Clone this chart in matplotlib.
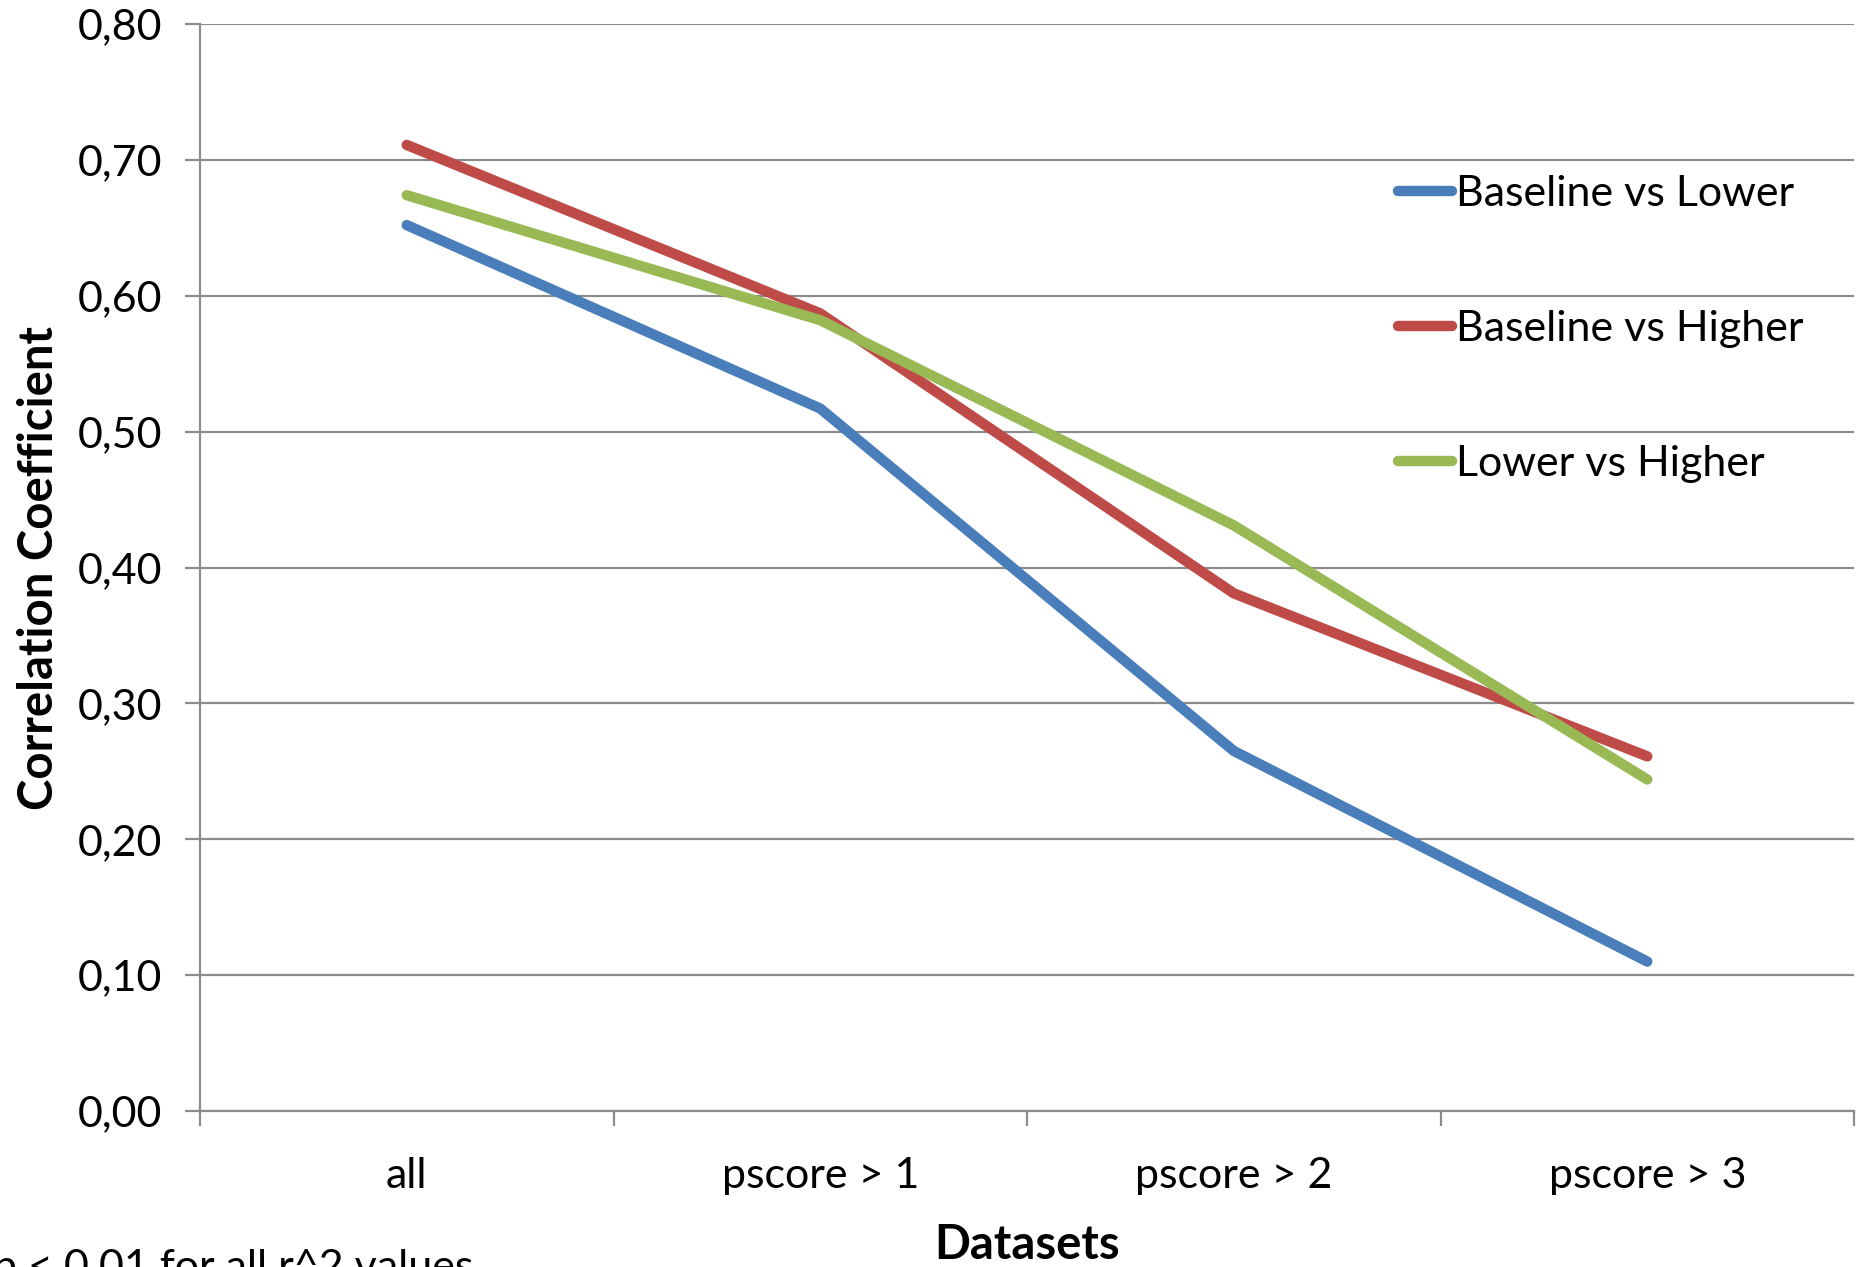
import numpy as np
import matplotlib
matplotlib.use("Agg")
import matplotlib.pyplot as plt
from matplotlib.ticker import FixedLocator, FuncFormatter

# данные
categories = ["all", "pscore > 1", "pscore > 2", "pscore > 3"]
series_names = ["Baseline vs Lower", "Baseline vs Higher", "Lower vs Higher"]
baseline_lower = [0.652, 0.517, 0.265, 0.110]
baseline_higher = [0.711, 0.587, 0.381, 0.261]
lower_higher = [0.674, 0.582, 0.431, 0.244]
yticks = [0.0, 0.1, 0.2, 0.3, 0.4, 0.5, 0.6, 0.7, 0.8]

colors = ["#4A7EBB", "#BE4B48", "#98B954"]
grid_col = "#8C8C8C"

plt.rcParams['font.family'] = ['Lato', 'DejaVu Sans']

fig = plt.figure(figsize=(18.6, 12.67), dpi=100)
ax = fig.add_axes([200/1860, 1 - 1111/1267, 1654/1860, 1087/1267])

x = np.arange(len(categories))
for vals, name, c in zip([baseline_lower, baseline_higher, lower_higher], series_names, colors):
    ax.plot(x, vals, color=c, lw=7.5, solid_capstyle="round", solid_joinstyle="miter", label=name, zorder=3)

ax.set_xlim(-0.5, len(categories) - 0.5)
ax.set_ylim(0, 0.8)
ax.set_yticks(yticks)
ax.yaxis.set_major_formatter(FuncFormatter(lambda v, p: ("%.2f" % v).replace(".", ",")))
ax.grid(axis="y", color=grid_col, lw=1.6, zorder=0)

# деления между категориями, подписи по центрам
ax.xaxis.set_major_locator(FixedLocator(np.arange(-0.5, len(categories), 1.0)))
ax.xaxis.set_minor_locator(FixedLocator(x))
ax.set_xticklabels([])
ax.set_xticklabels(categories, minor=True)
ax.tick_params(axis="x", which="major", length=11, width=1.6, color=grid_col, direction="out")
ax.tick_params(axis="x", which="minor", length=0, pad=33, labelsize=31)
ax.tick_params(axis="y", length=11, width=1.6, color=grid_col, pad=16, labelsize=31)

for s in ["top", "right"]:
    ax.spines[s].set_visible(False)
for s in ["left", "bottom"]:
    ax.spines[s].set_color(grid_col)
    ax.spines[s].set_linewidth(1.6)

ax.set_xlabel("Datasets", fontsize=34, fontweight="bold", labelpad=20)
ax.set_ylabel("Correlation Coefficient", fontsize=34, fontweight="bold", labelpad=12)

leg = ax.legend(loc="upper left", bbox_to_anchor=(1398/1860, 1 - 175/1267),
                bbox_transform=fig.transFigure, frameon=False, fontsize=31,
                handlelength=1.25, handletextpad=0.1, labelspacing=2.25,
                borderpad=0, borderaxespad=0)

fig.text(-0.004, 1 - 1249/1267, "p < 0.01 for all r^2 values", fontsize=31, va="top", ha="left")

fig.savefig("out.png", dpi=100)
